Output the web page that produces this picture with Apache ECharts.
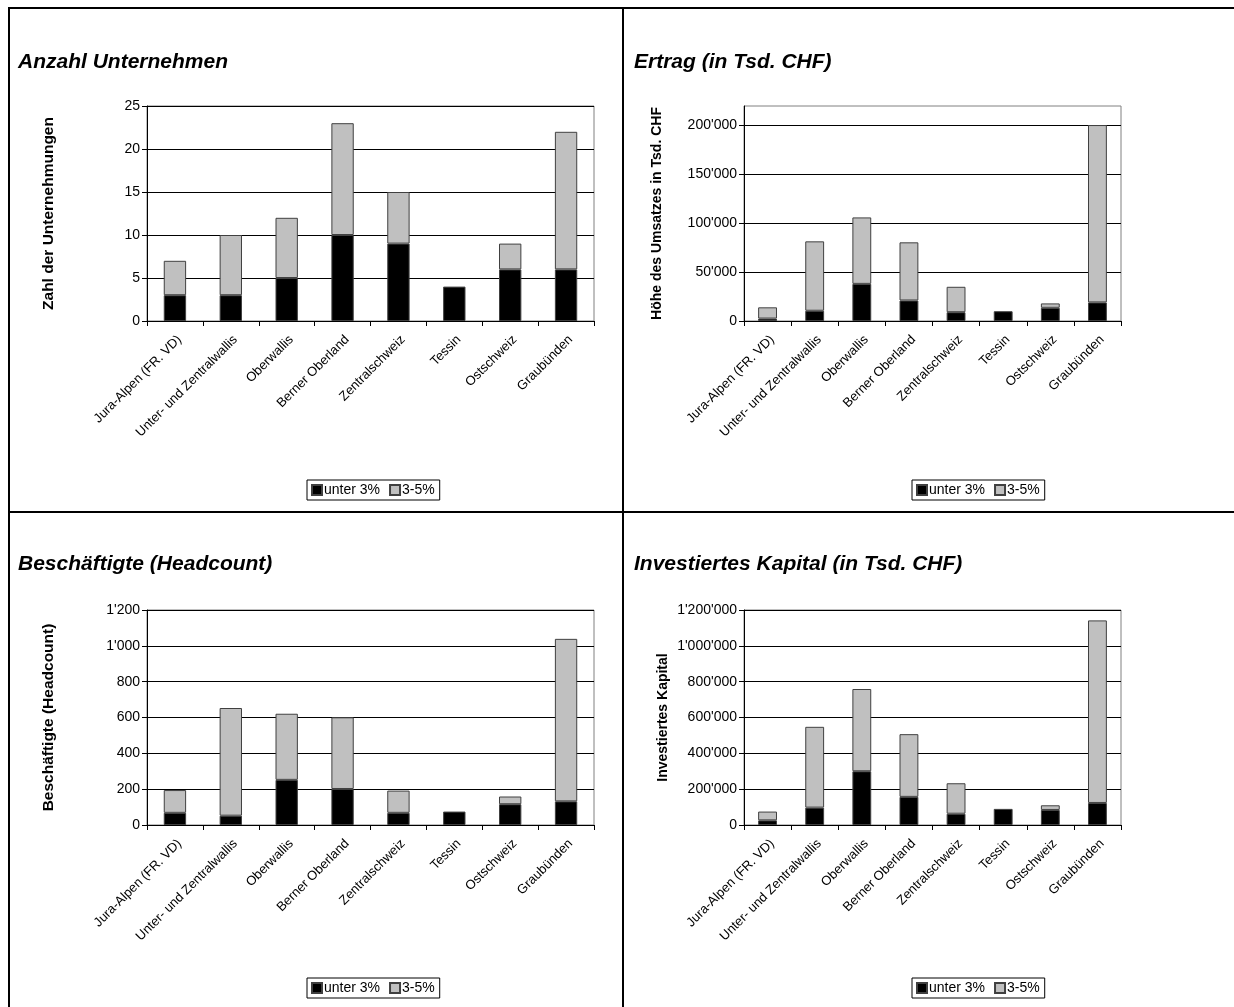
<!DOCTYPE html>
<html>
<head>
<meta charset="utf-8">
<script src="https://cdn.jsdelivr.net/npm/echarts@6/dist/echarts.min.js"></script>
<style>
  html, body { margin: 0; padding: 0; background: #fff; }
  #chart { width: 1234px; height: 1007px; }
</style>
</head>
<body>
<div id="chart"></div>
<script>
// Regions (shared by all four panels)
const regions = ['Jura-Alpen (FR. VD)', 'Unter- und Zentralwallis', 'Oberwallis', 'Berner Oberland',
                 'Zentralschweiz', 'Tessin', 'Ostschweiz', 'Graubünden'];
const seriesNames = ['unter 3%', '3-5%'];

// Anzahl Unternehmen
const firmsUnder3 = [3, 3, 5, 10, 9, 4, 6, 6];
const firms3to5   = [4, 7, 7, 13, 6, null, 3, 16];

// Ertrag (in Tsd. CHF)
const revenueUnder3 = [2500, 10500, 38000, 21000, 9000, 10000, 13500, 19000];
const revenue3to5   = [11500, 71000, 68000, 59500, 26000, null, 4500, 181500];

// Beschäftigte (Headcount)
const staffUnder3 = [68, 52, 252, 201, 68, 75, 116, 132];
const staff3to5   = [127, 601, 369, 400, 124, null, 43, 907];

// Investiertes Kapital (in Tsd. CHF)
const capitalUnder3 = [26000, 97000, 300000, 157000, 63000, 90000, 84000, 123000];
const capital3to5   = [49000, 451000, 459000, 350000, 170000, null, 26000, 1019000];

const FONT = '"Liberation Sans", Arial, sans-serif';
const fmt = v => String(v).replace(/\B(?=(\d{3})+(?!\d))/g, "'");

const panels = [
  { title: 'Anzahl Unternehmen', yName: 'Zahl der Unternehmungen', nameGap: 90, nameSize: 15.5,
    grid: { left: 147, top: 106, width: 447, height: 215 }, titlePos: [18, 52],
    legendPos: [307, 480], max: 25, interval: 5, data: [firmsUnder3, firms3to5] },
  { title: 'Ertrag (in Tsd. CHF)', yName: 'Höhe des Umsatzes in Tsd. CHF', nameGap: 80, nameSize: 14,
    grid: { left: 744, top: 106, width: 377, height: 215 }, titlePos: [634, 52],
    legendPos: [912, 480], max: 220000, interval: 50000, hideMax: true, data: [revenueUnder3, revenue3to5] },
  { title: 'Beschäftigte (Headcount)', yName: 'Beschäftigte (Headcount)', nameGap: 90, nameSize: 15.5,
    grid: { left: 147, top: 610, width: 447, height: 215 }, titlePos: [18, 554],
    legendPos: [307, 978], max: 1200, interval: 200, data: [staffUnder3, staff3to5] },
  { title: 'Investiertes Kapital (in Tsd. CHF)', yName: 'Investiertes Kapital', nameGap: 74, nameSize: 14,
    grid: { left: 744, top: 610, width: 377, height: 215 }, titlePos: [634, 554],
    legendPos: [912, 978], max: 1200000, interval: 200000, data: [capitalUnder3, capital3to5] }
];

const fills = ['#000000', '#c0c0c0'];

const option = {
  animation: false,
  textStyle: { fontFamily: FONT },
  title: panels.map(p => ({
    text: p.title, left: p.titlePos[0], top: p.titlePos[1], padding: 0,
    textStyle: { fontFamily: FONT, fontSize: 21, fontWeight: 'bold', fontStyle: 'italic', color: '#000' }
  })),
  legend: panels.map(p => ({
    data: seriesNames, left: p.legendPos[0], top: p.legendPos[1], orient: 'horizontal',
    borderColor: '#000', borderWidth: 1, padding: [3, 5, 3, 4],
    itemWidth: 10, itemHeight: 10, itemGap: 9, icon: 'rect', selectedMode: false,
    textStyle: { fontFamily: FONT, fontSize: 14, color: '#000', padding: [0, 0, 0, -3] }
  })),
  grid: panels.map(p => Object.assign({ show: true, borderColor: '#808080', borderWidth: 1, backgroundColor: 'transparent' }, p.grid)),
  xAxis: panels.map((p, i) => ({
    type: 'category', gridIndex: i, data: regions,
    axisLine: { lineStyle: { color: '#000', width: 1 } },
    axisTick: { show: true, length: 5, lineStyle: { color: '#000' } },
    axisLabel: { rotate: 45, fontSize: 13, color: '#000', margin: 12, interval: 0,
                 verticalAlign: 'top', fontFamily: FONT }
  })),
  yAxis: panels.map((p, i) => ({
    type: 'value', gridIndex: i, min: 0, max: p.max, interval: p.interval,
    name: p.yName, nameLocation: 'middle', nameGap: p.nameGap, nameRotate: 90,
    nameTextStyle: { fontFamily: FONT, fontSize: p.nameSize, fontWeight: 'bold', color: '#000' },
    axisLine: { show: true, lineStyle: { color: '#000', width: 1 } },
    axisTick: { show: true, length: 5, lineStyle: { color: '#000' } },
    axisLabel: { fontSize: 14, color: '#000', margin: 7, formatter: v => fmt(v),
                 showMaxLabel: !p.hideMax, fontFamily: FONT },
    splitLine: { show: true, showMaxLine: !p.hideMax, lineStyle: { color: '#000', width: 1 } }
  })),
  series: []
};

panels.forEach((p, i) => {
  seriesNames.forEach((name, k) => {
    option.series.push({
      type: 'bar', name, xAxisIndex: i, yAxisIndex: i, stack: 'panel' + i,
      barWidth: '40%', data: p.data[k],
      itemStyle: { color: fills[k], borderColor: '#404040', borderWidth: 1 },
      emphasis: { disabled: true }
    });
  });
});

// Panel frame lines
const frameColor = '#000';
option.graphic = [
  { type: 'line', shape: { x1: 8, y1: 8, x2: 1234, y2: 8 }, style: { stroke: frameColor, lineWidth: 2 } },
  { type: 'line', shape: { x1: 9, y1: 8, x2: 9, y2: 1007 }, style: { stroke: frameColor, lineWidth: 2 } },
  { type: 'line', shape: { x1: 623, y1: 8, x2: 623, y2: 1007 }, style: { stroke: frameColor, lineWidth: 2 } },
  { type: 'line', shape: { x1: 8, y1: 512, x2: 1234, y2: 512 }, style: { stroke: frameColor, lineWidth: 2 } }
];

const chart = echarts.init(document.getElementById('chart'), null, { renderer: 'canvas' });
chart.setOption(option);
</script>
</body>
</html>
